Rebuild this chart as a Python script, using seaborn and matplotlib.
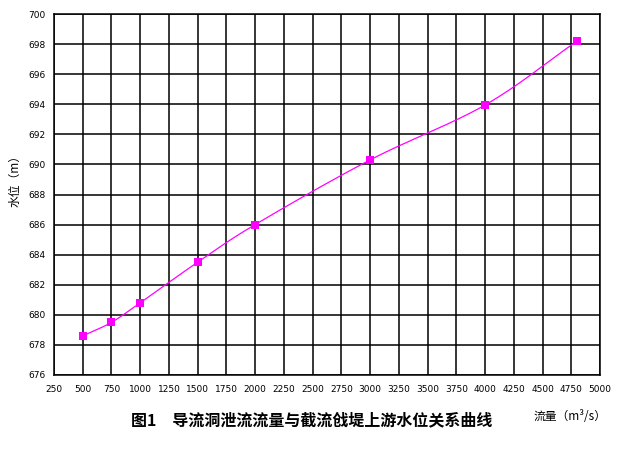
import numpy as np
import matplotlib
matplotlib.use("Agg")
import matplotlib.pyplot as plt
import seaborn as sns

# data
flow = [500, 750, 1000, 1500, 2000, 3000, 4000, 4800]
level = [678.6, 679.5, 680.8, 683.5, 686.0, 690.3, 693.95, 698.2]
x_ticks = list(range(250, 5001, 250))
y_ticks = list(range(676, 701, 2))

title_text = "图1　导流洞泄流流量与截流戗堤上游水位关系曲线"
x_label = "流量（m³/s）"
y_label = "水位（m）"

sns.set_style("white")
plt.rcParams['font.family'] = ['Noto Sans CJK SC', 'DejaVu Sans']
plt.rcParams['text.color'] = 'black'
plt.rcParams['xtick.color'] = 'black'
plt.rcParams['ytick.color'] = 'black'
cjk = ['Noto Sans CJK SC', 'DejaVu Sans']


def smooth(xs, ys, n=30):
    # catmull-rom curve through the points, like the excel smoothed line
    p = np.column_stack([xs, ys]).astype(float)
    # scale so both axes count the same
    sx = (x_ticks[-1] - x_ticks[0])
    sy = (y_ticks[-1] - y_ticks[0])
    p[:, 0] /= sx
    p[:, 1] /= sy
    p = np.vstack([p[0] - (p[1] - p[0]), p, p[-1] + (p[-1] - p[-2])])
    out = []
    t = np.linspace(0, 1, n)[:, None]
    for i in range(1, len(p) - 2):
        p0, p1, p2, p3 = p[i - 1], p[i], p[i + 1], p[i + 2]
        seg = 0.5 * ((2 * p1) + (-p0 + p2) * t + (2 * p0 - 5 * p1 + 4 * p2 - p3) * t ** 2
                     + (-p0 + 3 * p1 - 3 * p2 + p3) * t ** 3)
        out.append(seg)
    c = np.vstack(out)
    return c[:, 0] * sx, c[:, 1] * sy


fig = plt.figure(figsize=(6.18, 4.57), dpi=100)
ax = fig.add_axes([54 / 618, 82 / 457, 546 / 618, 361 / 457])

cx, cy = smooth(flow, level)
ax.plot(cx, cy, color="#ff00ff", lw=0.9, zorder=3)
sns.scatterplot(x=flow, y=level, ax=ax, marker="s", s=38, color="#ff00ff",
                edgecolor="#ff00ff", linewidth=0, zorder=4)

ax.set_xlim(250, 5000)
ax.set_ylim(676, 700)
ax.set_xticks(x_ticks)
ax.set_yticks(y_ticks)
ax.set_xticklabels([str(v) for v in x_ticks], fontsize=6.5, family='DejaVu Sans', color='black')
ax.set_yticklabels([str(v) for v in y_ticks], fontsize=6.5, family='DejaVu Sans', color='black')
ax.tick_params(axis='x', length=0, pad=7)
ax.tick_params(axis='y', length=0, pad=6)
ax.grid(True, color="black", lw=1.1)
ax.set_axisbelow(True)
for s in ax.spines.values():
    s.set_color("black")
    s.set_linewidth(1.1)

fig.text(312 / 618, 1 - 420 / 457, title_text, ha="center", va="center",
         fontsize=11.5, fontweight="bold", family=cjk, color="black")
fig.text(570 / 618, 1 - 417 / 457, x_label, ha="center", va="center",
         fontsize=8.5, family=cjk, color="black")
fig.text(15 / 618, 1 - 178 / 457, y_label, ha="center", va="center",
         rotation=90, fontsize=8.5, family=cjk, color="black")

fig.savefig("out.png", dpi=100)
